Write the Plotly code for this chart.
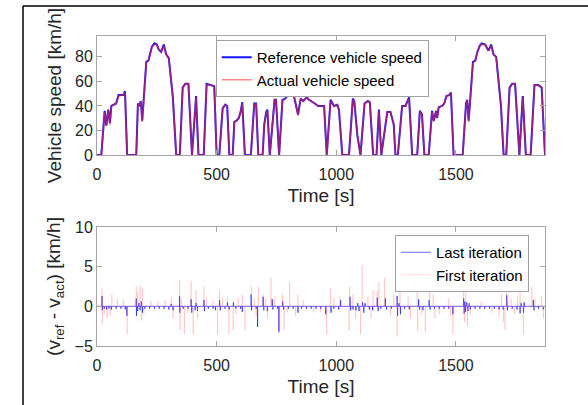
import plotly.graph_objects as go

# ---------------- data ----------------
time_s = [0, 18, 32, 39, 47, 54, 60, 74, 80, 90, 111, 117, 126, 164, 171, 177, 183, 189, 206, 215,
          222, 229, 240, 250, 258, 268, 279, 289, 300, 310, 317, 331, 346, 358, 369, 382, 397, 414, 424, 446,
          458, 476, 490, 500, 511, 525, 536, 544, 553, 567, 574, 583, 592, 600, 607, 618, 643, 657, 665, 674,
          692, 699, 707, 712, 722, 742, 748, 761, 775, 786, 794, 810, 824, 840, 851, 862, 876, 886, 896, 910,
          924, 949, 960, 976, 990, 1004, 1011, 1025, 1053, 1069, 1075, 1088, 1101, 1118, 1132, 1140, 1154, 1168, 1178, 1188,
          1213, 1226, 1240, 1247, 1257, 1275, 1289, 1299, 1304, 1317, 1338, 1349, 1358, 1368, 1386, 1400, 1407, 1417, 1421, 1428,
          1442, 1451, 1460, 1474, 1479, 1490, 1528, 1542, 1547, 1553, 1571, 1581, 1588, 1599, 1608, 1622, 1636, 1647, 1657, 1668,
          1682, 1688, 1699, 1710, 1724, 1735, 1747, 1765, 1779, 1792, 1812, 1828, 1844, 1858, 1872]
ref_speed = [0, 0, 36, 24, 37, 26, 40, 41, 42, 49, 49, 52, 0, 0, 42, 40, 44, 28, 76, 77,
             83, 88, 91, 90, 86, 84, 90, 82, 79, 60, 47, 0, 0, 55, 58, 58, 0, 48, 0, 0,
             58, 57, 56, 0, 0, 38, 41, 40, 0, 0, 27, 28, 30, 35, 43, 0, 0, 42, 42, 0,
             0, 25, 35, 37, 0, 45, 45, 0, 45, 46, 48, 55, 47, 33, 46, 44, 47, 45, 44, 42,
             40, 40, 0, 45, 40, 41, 37, 0, 0, 46, 44, 16, 0, 42, 44, 43, 0, 0, 37, 0,
             35, 35, 25, 0, 0, 40, 40, 45, 47, 0, 0, 36, 33, 0, 0, 36, 28, 36, 30, 39,
             40, 42, 48, 49, 51, 0, 0, 42, 45, 28, 76, 77, 83, 89, 91, 90, 85, 90, 82, 80,
             55, 40, 0, 0, 55, 58, 58, 0, 48, 0, 0, 57, 57, 55, 0]
act_speed = [0, 0, 35, 24, 37, 25, 40, 41, 42, 48, 49, 51, 0, 0, 41, 40, 44, 27, 75, 77,
             83, 88, 90, 90, 86, 84, 89, 82, 79, 60, 47, 0, 0, 54, 58, 58, 0, 47, 0, 0,
             57, 57, 56, 0, 0, 38, 41, 40, 0, 0, 27, 28, 30, 35, 42, 0, 0, 41, 42, 0,
             0, 25, 35, 36, 0, 45, 45, 0, 44, 46, 48, 54, 47, 32, 46, 44, 47, 45, 44, 42,
             40, 40, 0, 44, 40, 41, 37, 0, 0, 45, 44, 15, 0, 42, 44, 43, 0, 0, 36, 0,
             35, 35, 24, 0, 0, 40, 40, 45, 46, 0, 0, 36, 33, 0, 0, 35, 27, 36, 30, 39,
             40, 42, 48, 49, 50, 0, 0, 41, 45, 27, 75, 77, 83, 89, 90, 90, 85, 89, 82, 80,
             55, 40, 0, 0, 54, 58, 58, 0, 47, 0, 0, 57, 57, 55, 0]

# speed-error spikes, last iteration (time [s], error [km/h])
last_spike_t = [21, 22, 30, 40, 50, 60, 80, 100, 118, 125, 164, 165, 170, 175, 180, 185, 190, 200, 220, 240,
                260, 280, 300, 310, 318, 345, 346, 360, 380, 393, 396, 410, 414, 420, 447, 449, 465, 485, 495, 512,
                515, 535, 545, 552, 570, 580, 600, 607, 644, 646, 665, 671, 694, 697, 712, 732, 735, 755, 760, 776,
                780, 800, 820, 840, 855, 875, 895, 915, 935, 956, 978, 990, 1010, 1018, 1057, 1060, 1070, 1082, 1090, 1095,
                1110, 1115, 1120, 1138, 1152, 1171, 1175, 1186, 1205, 1210, 1230, 1254, 1256, 1262, 1268, 1285, 1305, 1344, 1348, 1362,
                1388, 1392, 1410, 1430, 1450, 1470, 1487, 1532, 1534, 1537, 1540, 1545, 1550, 1555, 1560, 1580, 1600, 1620, 1640, 1660,
                1680, 1697, 1712, 1715, 1735, 1755, 1768, 1772, 1782, 1785, 1823, 1826, 1845, 1865]
last_spike_v = [1.3, -0.5, -0.3, -0.4, -0.3, -0.4, -0.3, -0.3, -0.4, -1.2, 1.0, -1.2, -0.6, 0.4, -0.5, 0.6, -0.8, -0.3, -0.3, -0.3,
                -0.3, -0.3, -0.4, 0.3, -0.5, 1.3, -0.8, -0.3, -0.3, 0.9, -0.8, -0.5, 0.4, -0.6, 0.8, -0.6, -0.3, -0.3, -0.5, 0.8,
                -0.5, -0.3, 0.5, -0.4, 0.5, -0.3, -0.3, -0.7, 1.5, -0.5, -0.3, -2.6, 1.2, -0.5, -0.6, 0.9, -0.4, -0.3, -3.2, 0.6,
                -0.4, -0.3, -0.3, -0.8, -0.3, -0.3, -0.3, -0.3, -0.3, -1.0, -0.8, -0.3, -0.4, 0.8, 1.2, -0.5, -0.4, -0.5, 0.4, -0.6,
                0.5, -0.8, 0.4, -0.4, -0.5, 1.1, -0.6, -0.3, 1.0, -0.4, -0.3, 1.3, -1.2, 0.4, -1.0, -0.3, -0.4, 0.9, -0.4, -0.5,
                0.8, -0.4, -0.3, -0.3, -0.3, -0.3, -1.0, 1.0, -0.9, 0.6, -0.7, 0.5, -0.6, 0.4, -0.4, -0.3, -0.3, -0.3, -0.3, -0.3,
                -0.4, -0.4, 1.4, -0.5, -0.3, -0.4, -0.9, 0.4, -0.8, 0.5, 0.8, -0.5, -0.3, -0.4]

# speed-error spikes, first iteration (time [s], error [km/h])
first_spike_t = [21, 22, 30, 42, 55, 62, 85, 110, 126, 164, 170, 180, 186, 190, 196, 225, 255, 285, 310, 318,
                 345, 347, 352, 365, 380, 393, 402, 414, 420, 447, 458, 485, 504, 512, 525, 545, 551, 569, 580, 590,
                 607, 618, 645, 657, 665, 674, 694, 705, 712, 727, 742, 761, 775, 782, 795, 805, 830, 840, 862, 905,
                 935, 960, 976, 990, 1015, 1053, 1056, 1069, 1080, 1101, 1108, 1132, 1145, 1154, 1171, 1178, 1201, 1226, 1240, 1254,
                 1266, 1300, 1310, 1338, 1340, 1355, 1372, 1390, 1405, 1412, 1430, 1468, 1478, 1487, 1532, 1536, 1541, 1548, 1560, 1605,
                 1650, 1680, 1690, 1699, 1705, 1712, 1730, 1745, 1758, 1768, 1782, 1817, 1830, 1858, 1866]
first_spike_v = [2.2, -2.3, -1.0, -1.5, -1.2, 1.5, 1.0, 0.8, -3.5, 2.5, 1.8, 2.6, -1.8, 2.2, -1.0, 0.7, 0.6, 0.8, 1.2, -1.5,
                 3.3, -3.0, 1.0, -3.5, -0.8, 3.2, -3.5, 2.0, -1.5, 2.5, 1.0, 0.7, -3.5, 2.0, 1.0, 1.0, -3.5, -3.0, -1.0, 1.0,
                 1.5, -3.0, 2.5, 1.0, -1.2, 2.5, 1.5, 1.0, -1.5, 3.6, 1.0, -3.5, 1.5, -3.0, -0.8, 3.0, -1.2, 1.5, 0.8, -0.8,
                 -0.7, -3.6, 2.2, 1.0, 1.2, -3.0, 2.5, 1.5, -1.5, -3.5, 5.2, 1.2, -1.5, 2.0, 2.0, 3.0, 3.6, -1.2, 1.5, -3.8,
                 2.0, 1.2, -1.5, 3.0, -3.0, -1.0, -3.3, 2.0, 1.5, -1.5, -1.0, 1.0, -1.2, -3.5, 2.6, -2.0, 3.5, -2.5, -1.0, 0.6,
                 -0.8, -1.2, 1.5, -2.0, -3.0, 2.0, 1.0, -1.0, 1.2, 3.0, -3.5, 2.5, 1.0, 1.2, -1.5]

speed_ticks = [0, 20, 40, 60, 80]
err_ticks = [-5, 0, 5, 10]
time_ticks = [0, 500, 1000, 1500]
T_END = 1872


def spike_line(ts, vs, half=0.8):
    """Turn spike samples into a line that returns to zero between spikes."""
    xs, ys = [0], [0]
    for t, v in sorted(zip(ts, vs)):
        xs += [t - half, t, t + half]
        ys += [0, v, 0]
    xs.append(T_END)
    ys.append(0)
    return xs, ys


last_x, last_y = spike_line(last_spike_t, last_spike_v)
first_x, first_y = spike_line(first_spike_t, first_spike_v)

# ---------------- figure ----------------
FONT = "Liberation Sans, Arial, Helvetica, sans-serif"
AXC = "#a6a6a6"
TXT = "#262626"

fig = go.Figure()
fig.add_trace(go.Scatter(x=time_s, y=ref_speed, mode="lines", name="Reference vehicle speed",
                         line=dict(color="rgb(20,20,255)", width=2), xaxis="x", yaxis="y", legend="legend"))
fig.add_trace(go.Scatter(x=time_s, y=act_speed, mode="lines", name="Actual vehicle speed",
                         line=dict(color="rgba(255,40,40,0.55)", width=1.6), xaxis="x", yaxis="y", legend="legend"))
fig.add_trace(go.Scatter(x=last_x, y=last_y, mode="lines", name="Last iteration",
                         line=dict(color="rgba(20,20,255,0.8)", width=0.8), xaxis="x2", yaxis="y2", legend="legend2"))
fig.add_trace(go.Scatter(x=first_x, y=first_y, mode="lines", name="First iteration",
                         line=dict(color="rgba(255,60,60,0.2)", width=0.9), xaxis="x2", yaxis="y2", legend="legend2"))

axis_common = dict(showline=True, linecolor=AXC, linewidth=1, mirror="ticks", ticks="inside",
                   ticklen=5, tickcolor=AXC, showgrid=False, zeroline=False, automargin=False,
                   tickfont=dict(family=FONT, size=16, color=TXT))

fig.update_layout(
    width=588, height=405,
    margin=dict(l=97, r=43, t=36, b=59, autoexpand=False),
    paper_bgcolor="white", plot_bgcolor="white",
    font=dict(family=FONT, color=TXT),
    xaxis=dict(domain=[0, 1], range=[0, T_END], tickvals=time_ticks, anchor="y", ticklabelstandoff=5,
               title=dict(text="Time [s]", font=dict(size=19, color=TXT), standoff=6), **axis_common),
    yaxis=dict(domain=[0.616, 1], range=[0, 97], tickvals=speed_ticks, anchor="x",
               title=dict(text="Vehicle speed [km/h]", font=dict(size=19, color=TXT), standoff=8), **axis_common),
    xaxis2=dict(domain=[0, 1], range=[0, T_END], tickvals=time_ticks, anchor="y2", ticklabelstandoff=5,
                title=dict(text="Time [s]", font=dict(size=19, color=TXT), standoff=6), **axis_common),
    yaxis2=dict(domain=[0, 0.384], range=[-5, 10], tickvals=err_ticks, anchor="x2",
                title=dict(text="(v<sub>ref</sub> - v<sub>act</sub>) [km/h]", font=dict(size=19, color=TXT), standoff=8),
                **axis_common),
    legend=dict(x=0.265, y=0.987, xanchor="left", yanchor="top", bgcolor="white",
                bordercolor="#a0a0a0", borderwidth=1, font=dict(family=FONT, size=15, color="black"),
                tracegroupgap=0),
    legend2=dict(x=0.665, y=0.358, xanchor="left", yanchor="top", bgcolor="white",
                 bordercolor="#a0a0a0", borderwidth=1, font=dict(family=FONT, size=15, color="black"),
                 tracegroupgap=0),
    showlegend=True,
)

# page frame lines (top and left)
fig.add_shape(type="line", xref="paper", yref="paper", x0=(23 - 97) / 448, x1=(600 - 97) / 448,
              y0=(346 - 6) / 310, y1=(346 - 6) / 310, line=dict(color="black", width=1.5))
fig.add_shape(type="line", xref="paper", yref="paper", x0=(23 - 97) / 448, x1=(23 - 97) / 448,
              y0=(346 - 6) / 310, y1=(346 - 410) / 310, line=dict(color="black", width=1.5))

fig.write_html("out.html", config={"displayModeBar": False},
               post_script="document.body.style.margin='0';document.body.style.overflow='hidden';")
